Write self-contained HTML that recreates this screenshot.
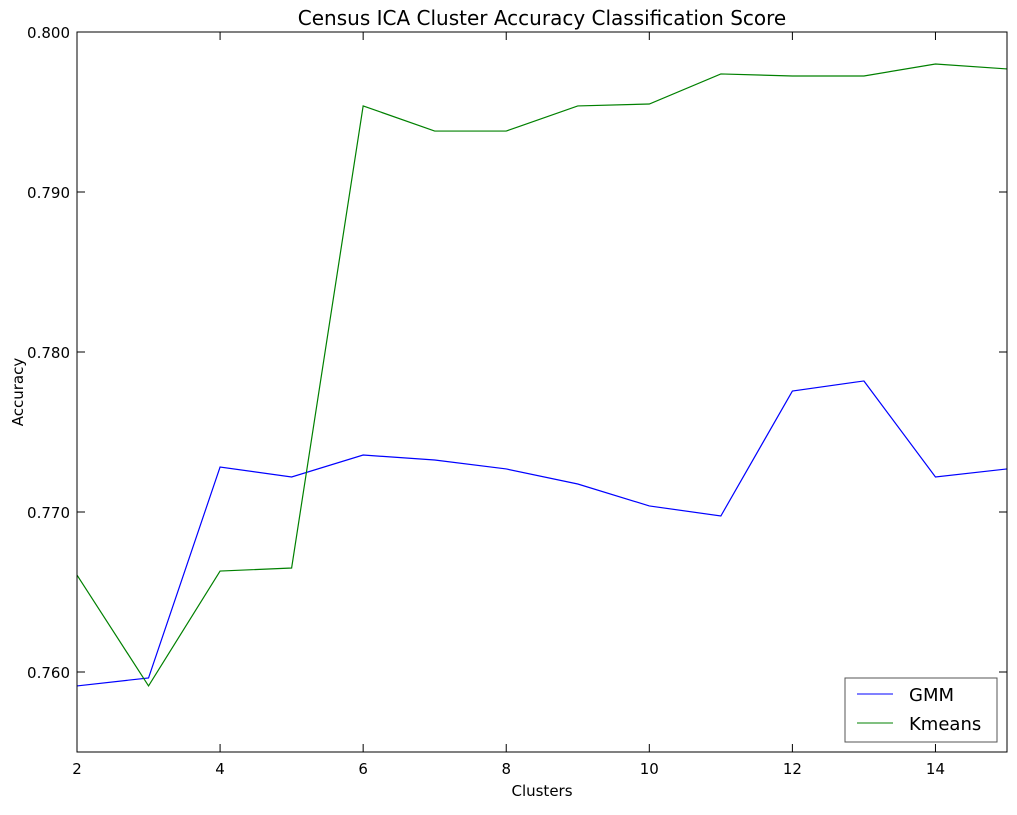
<!DOCTYPE html>
<html><head><meta charset="utf-8"><style>
body{margin:0;background:#fff;}
svg text{font-family:"DejaVu Sans","Liberation Sans",sans-serif;}
</style></head><body>
<svg id="chart" width="1017" height="810" xmlns="http://www.w3.org/2000/svg">
<rect width="1017" height="810" fill="#fff"/>
<text x="542" y="25" font-size="20" text-anchor="middle">Census ICA Cluster Accuracy Classification Score</text>
<text x="542" y="796" font-size="15" text-anchor="middle">Clusters</text>
<text transform="translate(23,392) rotate(-90)" font-size="15" text-anchor="middle">Accuracy</text>
<g id="series"></g>
<g id="ticks"></g>
<rect x="77" y="32" width="930" height="720" fill="none" stroke="#000" stroke-width="1"/>
<g>
<rect x="845" y="678" width="152" height="64" fill="#fff" stroke="#555" stroke-width="1"/>
<line x1="857" y1="694" x2="893" y2="694" stroke="#0000ff"/>
<text x="909" y="701" font-size="18">GMM</text>
<line x1="857" y1="723" x2="893" y2="723" stroke="#008000"/>
<text x="909" y="730" font-size="18">Kmeans</text>
</g>
</svg>
<script>
const clusters=[2,3,4,5,6,7,8,9,10,11,12,13,14,15];
const gmm=[0.75913,0.75963,0.77281,0.77219,0.77356,0.77325,0.77269,0.77175,0.77038,0.76975,0.77756,0.77819,0.77219,0.77269];
const kmeans=[0.76606,0.75913,0.76631,0.7665,0.79538,0.79381,0.79381,0.79538,0.7955,0.79738,0.79725,0.79725,0.798,0.79769];
const xTicks=[2,4,6,8,10,12,14];
const yTicks=[0.76,0.77,0.78,0.79,0.80];
const yTickLabels=["0.760","0.770","0.780","0.790","0.800"];
const NS="http://www.w3.org/2000/svg";
const L=77,R=1007,T=32,B=752;
function xs(v){return L+(v-2)/(15-2)*(R-L);}
function ys(v){return B-(v-0.755)/(0.800-0.755)*(B-T);}
const tg=document.getElementById('ticks');
function mk(tag,attrs,parent){const e=document.createElementNS(NS,tag);for(const k in attrs)e.setAttribute(k,attrs[k]);parent.appendChild(e);return e;}
xTicks.forEach(v=>{const x=xs(v);
 const t1=mk('line',{x1:x,y1:B,x2:x,y2:B-8,stroke:'#000'},tg);
 
 
 mk('line',{x1:x,y1:T,x2:x,y2:T+8,stroke:'#000'},tg);
 const tx=mk('text',{x:x,y:B+22,'font-size':15,'text-anchor':'middle'},tg);tx.textContent=v;
 
 
});
yTicks.forEach((v,i)=>{const y=ys(v);
 const t1=mk('line',{x1:L,y1:y,x2:L+8,y2:y,stroke:'#000'},tg);
 
 
 mk('line',{x1:R,y1:y,x2:R-8,y2:y,stroke:'#000'},tg);
 const tx=mk('text',{x:L-7,y:y+6,'font-size':15,'text-anchor':'end'},tg);tx.textContent=yTickLabels[i];
 
 
});
const sg=document.getElementById('series');
function line(vals,color,name){
 const p=mk('polyline',{points:vals.map((v,i)=>xs(clusters[i])+','+ys(v)).join(' '),fill:'none',stroke:color,'stroke-width':1.2},sg);
 
 
}
line(gmm,'#0000ff','gmm-line');
line(kmeans,'#008000','kmeans-line');
</script>
</body></html>
